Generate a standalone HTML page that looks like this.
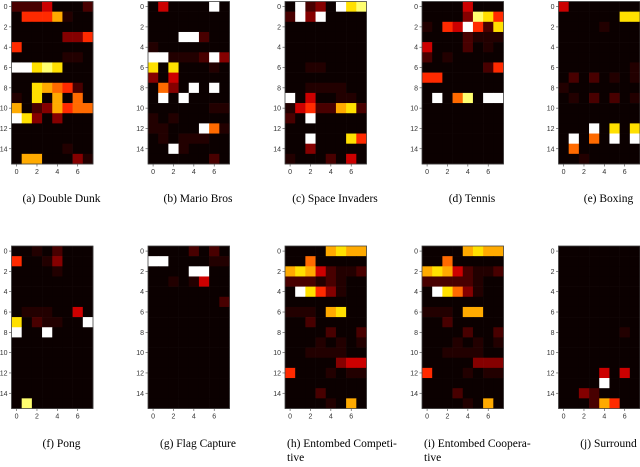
<!DOCTYPE html>
<html><head><meta charset="utf-8">
<style>
body{margin:0;background:#fff;width:640px;height:462px;overflow:hidden;}
svg text{font-family:"Liberation Sans",sans-serif;}
.cap{font-family:"Liberation Serif",serif;font-size:11.5px;fill:#000;}
.tk{font-size:7px;fill:#333;}
</style></head>
<body>
<svg id="chart" width="640" height="462" viewBox="0 0 640 462" xmlns="http://www.w3.org/2000/svg"></svg>
<script>
// Each panel: 16 rows x 8 cols, intensity levels 0-9, W = max (10)
const doubleDunk=["22240002","05557100","00000000","00000335","50000000","00000110","WW898000","00000000","00876520","10807060","70237566","W8303000","00000000","00000000","00000100","07700031"];
const marioBros=["040000W0","00000000","00000000","000WW200","10000000","WW1112W3","80800010","30400000","0630W0W0","0W0W0000","00000011","10100000","11000W61","01011100","00W10000","00000020"];
const spaceInvaders=["0W230W89","2W3W0000","00000000","00000000","00000000","00000000","00110000","00000000","00111100","W0400110","14522782","20W00000","00000000","00W00085","00300000","10002040"];
const tennis=["00004000","00003985","1054W528","00002111","40002010","20100000","00000025","55000000","00000000","0W0690WW","00000000","00000000","00000000","00000000","00000000","00000000"];
const boxing=["40000000","00000088","00001000","00000000","00000000","00000000","00000001","02020101","10000000","01020201","00000000","00000000","000W0808","0W060W0W","06000000","00100000"];
const pong=["00102000","50013000","00001000","00000000","00000000","00000000","01110040","8021100W","W00W0000","00000000","00000000","00000000","00000000","00000000","00000000","09000000"];
const flagCapture=["00002020","WW000011","0000WW00","00101400","00000000","00000002","00000000","00000000","00000000","00000000","00000000","00000000","00000000","00000000","00000000","00000000"];
const entombedComp=["00007877","00600000","78742112","22212100","0W853100","00000000","11107800","00200000","00002002","00010101","00111100","00000344","50001011","00000000","00020000","00001070"];
const entombedCoop=["00007877","00600000","78742112","22222100","0W863100","00000000","11107700","00200000","00002002","00010101","00111100","00000333","50001011","00000000","00020000","00001070"];
const surround=["00000000","00000000","00000000","00000000","00000000","00000000","00000000","00000000","00000010","00000000","00000000","00000000","00004040","0000W000","00320000","00027500"];
const panelData=[doubleDunk,marioBros,spaceInvaders,tennis,boxing,pong,flagCapture,entombedComp,entombedCoop,surround];
const captions=["(a) Double Dunk","(b) Mario Bros","(c) Space Invaders","(d) Tennis","(e) Boxing","(f) Pong","(g) Flag Capture","(h) Entombed  Competi-","(i) Entombed  Coopera-","(j) Surround"];
const xTicks=[0,2,4,6];
const yTicks=[0,2,4,6,8,10,12,14];
const palette=["#0b0000","#220000","#480000","#850000","#cc0000","#ff2a00","#ff6a00","#ffaa00","#ffe000","#ffff70","#ffffff"];

const NS="http://www.w3.org/2000/svg";
const svg=document.getElementById('chart');
const lefts=[11.5,148,285,422,558.5], tops=[1.5,246];
const PW=81.5, PH=162.5, cw=PW/8, ch=PH/16;
function mk(t,a){const e=document.createElementNS(NS,t);for(const k in a)e.setAttribute(k,a[k]);return e;}
function lvl(c){return c==='W'?10:parseInt(c,10);}
panelData.forEach((rows,p)=>{
  const L=lefts[p%5], T=tops[Math.floor(p/5)];
  const xS=c=>L+c*cw, yS=r=>T+r*ch;
  const g=mk('g',{});
  
  
  svg.appendChild(g);
  rows.forEach((row,r)=>{for(let c=0;c<8;c++){
    const v=lvl(row[c]||'0');
    const rc=mk('rect',{x:xS(c),y:yS(r),width:cw+0.3,height:ch+0.3,fill:palette[v]});
    
    
    g.appendChild(rc);
  }});
  const fr=mk('rect',{x:L,y:T,width:PW,height:PH,fill:'none',stroke:'#444','stroke-width':0.8});
  
  
  g.appendChild(fr);
  xTicks.forEach(t=>{
    const x=xS(t+0.5);
    g.appendChild(mk('line',{x1:x,y1:T+PH,x2:x,y2:T+PH+2.5,stroke:'#444','stroke-width':0.6}));
    const tx=mk('text',{x:x,y:T+PH+10,'text-anchor':'middle',class:'tk'});
    
    
    tx.textContent=t;g.appendChild(tx);
  });
  yTicks.forEach(t=>{
    const y=yS(t+0.5);
    g.appendChild(mk('line',{x1:L-2.5,y1:y,x2:L,y2:y,stroke:'#444','stroke-width':0.6}));
    const tx=mk('text',{x:L-4,y:y+2.5,'text-anchor':'end',class:'tk'});
    
    
    tx.textContent=t;g.appendChild(tx);
  });
  const cy=p<5?202:447;
  const cap=mk('text',{x:L+50,y:cy,'text-anchor':'middle',class:'cap'});
  if(p===7||p===8){cap.setAttribute('x',L+2);cap.setAttribute('text-anchor','start');}
  
  
  cap.textContent=captions[p];g.appendChild(cap);
  if(p===7||p===8){
    const c2=mk('text',{x:L+2,y:cy+14,class:'cap'});
    
    
    c2.textContent='tive';g.appendChild(c2);
  }
});
</script>
</body></html>
